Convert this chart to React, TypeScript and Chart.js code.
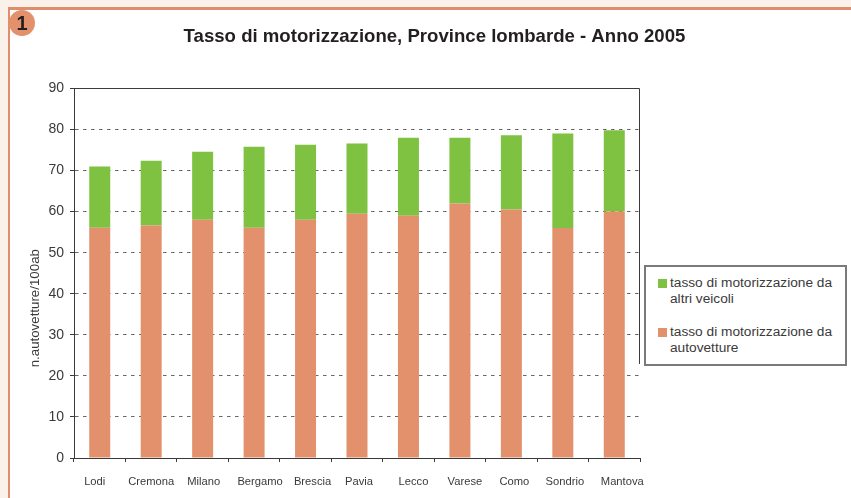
import React, { useEffect, useRef } from "react";
import { Chart, registerables } from "chart.js";

Chart.register(...registerables);

const categories = ["Lodi", "Cremona", "Milano", "Bergamo", "Brescia", "Pavia", "Lecco", "Varese", "Como", "Sondrio", "Mantova"];
const autovetture = [56.1, 56.6, 58, 56.1, 58, 59.5, 59, 62, 60.5, 56, 60];
const altriVeicoli = [14.9, 15.8, 16.6, 19.7, 18.3, 17.1, 19, 16, 18.1, 23, 19.8];
const labelShift = [-5, 0, 1, 6, 7, 2, 5, 5, 3, 2, 8];
const titleText = "Tasso di motorizzazione, Province lombarde - Anno 2005";
const yTitle = "n.autovetture/100ab";
const legendAltri = ["tasso di motorizzazione da", "altri veicoli"];
const legendAuto = ["tasso di motorizzazione da", "autovetture"];

const ORANGE = "#e2916c";
const GREEN = "#7fc241";
const INK = "#3a3a3a";
const FONT = "'Liberation Sans', Arial, sans-serif";

const decor = {
  id: "decor",
  afterLayout(chart: any) {
    chart.titleBlock.left = 18;
    chart.titleBlock.right = 851;
  },
  beforeDraw(chart: any) {
    const items = chart.scales.x.getLabelItems(chart.chartArea);
    items.forEach((it: any, i: number) => {
      if (!it.__moved) {
        it.options.translation[0] += labelShift[i] ?? 0;
        it.__moved = true;
      }
    });
    const y = chart.scales.y;
    if (!y.__titleMoved) {
      const orig = y.drawTitle;
      y.drawTitle = function () {
        chart.ctx.save();
        chart.ctx.translate(27, 35);
        orig.call(y);
        chart.ctx.restore();
      };
      y.__titleMoved = true;
    }
  },
  afterDatasetsDraw(chart: any) {
    const { ctx, chartArea } = chart;
    ctx.save();
    ctx.strokeStyle = INK;
    ctx.lineWidth = 1;
    ctx.beginPath();
    ctx.moveTo(chartArea.left, Math.floor(chartArea.top) + 0.5);
    ctx.lineTo(chartArea.right - 0.5, Math.floor(chartArea.top) + 0.5);
    ctx.lineTo(chartArea.right - 0.5, chart.scales.y.getPixelForValue(22.9));
    ctx.stroke();
    ctx.restore();
  },
};

function LegendRow({ color, lines, top }: { color: string; lines: string[]; top: number }) {
  return (
    <div style={{ position: "absolute", left: 12, top, font: `13.7px/16px ${FONT}`, color: INK, whiteSpace: "nowrap" }}>
      <span style={{ position: "absolute", left: 0, top: 4, width: 9, height: 9, background: color }} />
      <div style={{ marginLeft: 12 }}>
        {lines.map((l) => (
          <div key={l}>{l}</div>
        ))}
      </div>
    </div>
  );
}

export default function App() {
  const ref = useRef<HTMLCanvasElement>(null);
  useEffect(() => {
    const chart = new Chart(ref.current!, {
      type: "bar",
      data: {
        labels: categories,
        datasets: [
          { label: "tasso di motorizzazione da autovetture", data: autovetture, backgroundColor: ORANGE, barPercentage: 0.408, categoryPercentage: 1 },
          { label: "tasso di motorizzazione da altri veicoli", data: altriVeicoli, backgroundColor: GREEN, barPercentage: 0.408, categoryPercentage: 1 },
        ],
      },
      plugins: [decor],
      options: {
        responsive: false,
        animation: false,
        layout: { padding: { left: 0, right: 211, top: 0, bottom: 0 } },
        plugins: {
          legend: { display: false },
          tooltip: { enabled: false },
          title: {
            display: true,
            text: titleText,
            color: "#231f20",
            font: { family: FONT, size: 18.6, weight: "bold" },
            padding: { top: 26, bottom: 40.1 },
          },
        },
        scales: {
          x: {
            stacked: true,
            afterFit: (s: any) => { s.height = 40; },
            border: { color: INK, width: 1 },
            grid: { drawOnChartArea: false, drawTicks: true, tickLength: 4, color: INK },
            ticks: { color: INK, font: { family: FONT, size: 11.2 }, padding: 13, maxRotation: 0, autoSkip: false },
          },
          y: {
            stacked: true,
            min: 0,
            max: 90,
            afterFit: (s: any) => { s.width = 74; },
            border: { color: INK, width: 1, dash: [3.5, 4.5] },
            grid: { color: "#666666", tickLength: 4, tickColor: INK, tickBorderDash: [] },
            ticks: { color: INK, stepSize: 10, font: { family: FONT, size: 14 }, padding: 6 },
            title: { display: true, text: yTitle, color: INK, font: { family: FONT, size: 13.3 }, padding: { top: 0, bottom: 6 } },
          },
        },
      },
    } as any);
    return () => chart.destroy();
  }, []);

  return (
    <div style={{ position: "fixed", left: 0, top: 0, width: 851, height: 498, overflow: "hidden", background: "#faf1eb" }}>
      <div style={{ position: "absolute", left: 8, top: 7, width: 900, height: 600, background: "#fff", borderTop: `3px solid #e08d6d`, borderLeft: `2px solid #e08d6d` }} />
      <canvas ref={ref} width={851} height={498} style={{ position: "absolute", left: 0, top: 0, width: 851, height: 498 }} />
      <div style={{ position: "absolute", left: 9, top: 10, width: 26, height: 26, borderRadius: "50%", background: ORANGE, color: "#231f20", font: `bold 20px/26px ${FONT}`, textAlign: "center" }}>1</div>
      <div style={{ position: "absolute", left: 644, top: 265, width: 199, height: 97, border: "2px solid #7a7a7a", background: "#fff", boxSizing: "content-box" }}>
        <LegendRow color={GREEN} lines={legendAltri} top={8} />
        <LegendRow color={ORANGE} lines={legendAuto} top={57} />
      </div>
    </div>
  );
}
